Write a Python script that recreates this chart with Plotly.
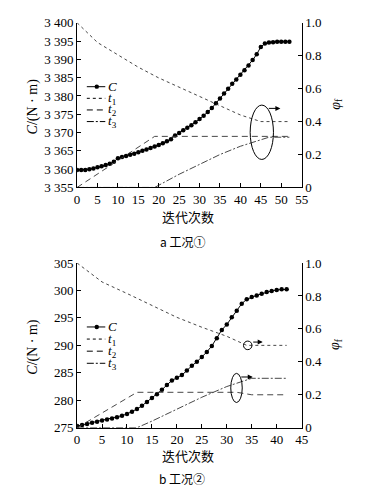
import plotly.graph_objects as go

# ---------------- data ----------------
iter_a = list(range(0, 53))
C_a = [3359.8, 3359.8, 3359.8, 3360.0, 3360.2, 3360.5, 3360.8, 3361.1, 3361.5, 3362.0,
       3363.0, 3363.3, 3363.6, 3363.9, 3364.2, 3364.6, 3365.0, 3365.4, 3365.8, 3366.2,
       3366.6, 3367.1, 3367.6, 3368.2, 3369.2, 3369.9, 3370.6, 3371.3, 3372.0, 3372.8,
       3373.7, 3374.6, 3375.6, 3376.7, 3378.0, 3379.3, 3380.7, 3382.0, 3383.3, 3384.5,
       3385.8, 3387.0, 3388.3, 3389.8, 3391.4, 3393.4, 3394.3, 3394.6, 3394.7, 3394.8,
       3394.8, 3394.8, 3394.8]
t1_a_x = [0, 5, 10, 15, 20, 25, 30, 35, 40, 45, 52]
t1_a = [1.0, 0.88, 0.805, 0.73, 0.665, 0.61, 0.55, 0.50, 0.44, 0.40, 0.40]
t2_a_x = [0, 19, 52]
t2_a = [0.0, 0.31, 0.31]
t3_a_x = [0, 19, 25, 30, 35, 40, 45, 47, 52]
t3_a = [0.0, 0.0, 0.08, 0.14, 0.20, 0.25, 0.29, 0.305, 0.305]

iter_b = list(range(0, 43))
C_b = [275.3, 275.5, 275.7, 275.9, 276.1, 276.3, 276.5, 276.7, 276.9, 277.2,
       277.5, 277.9, 278.4, 279.0, 279.7, 280.4, 281.1, 281.9, 282.8, 283.6,
       284.1, 284.6, 285.4, 286.3, 287.0, 287.9, 288.8, 289.9, 291.3, 292.8,
       293.8, 295.1, 296.3, 297.6, 298.4, 298.8, 299.1, 299.4, 299.7, 299.9,
       300.1, 300.2, 300.2]
t1_b_x = [0, 5, 10, 15, 20, 25, 30, 34, 42]
t1_b = [1.0, 0.885, 0.815, 0.745, 0.67, 0.61, 0.555, 0.50, 0.50]
t2_b_x = [0, 12, 32, 35, 42]
t2_b = [0.0, 0.215, 0.215, 0.20, 0.20]
t3_b_x = [0, 12, 15, 20, 25, 30, 35, 42]
t3_b = [0.0, 0.0, 0.04, 0.115, 0.185, 0.25, 0.30, 0.30]

yticks_a = [3355, 3360, 3365, 3370, 3375, 3380, 3385, 3390, 3395, 3400]
yticktext_a = ["3 355", "3 360", "3 365", "3 370", "3 375", "3 380", "3 385", "3 390", "3 395", "3 400"]
yticks_b = [275, 280, 285, 290, 295, 300, 305]
phi_ticks = [0, 0.2, 0.4, 0.6, 0.8, 1.0]
phi_text = ["0", "0.2", "0.4", "0.6", "0.8", "1.0"]
legend_names = ["<i>C</i>", "<i>t</i><sub>1</sub>", "<i>t</i><sub>2</sub>", "<i>t</i><sub>3</sub>"]

# ---------------- layout helpers ----------------
OFF = 8  # page body margin
W, H = 373 - 2 * OFF, 497 - 2 * OFF
def px(x): return (x - OFF) / W
def py(y): return 1 - (y - OFF) / H

SERIF = "Liberation Serif, Times New Roman, serif"
CJK = "Noto Sans CJK SC"
tickfont = dict(family=SERIF, size=13, color="black")
DASHES = ["solid", "dot", "6px,4px", "7px,2px,2px,2px"]

fig = go.Figure()

def add_panel(xs, C, t1x, t1, t2x, t2, t3x, t3, xa, ya, ya2):
    fig.add_trace(go.Scatter(x=xs, y=C, xaxis=xa, yaxis=ya, mode="lines+markers",
                             line=dict(color="black", width=1),
                             marker=dict(color="black", size=4.5), showlegend=False))
    fig.add_trace(go.Scatter(x=t1x, y=t1, xaxis=xa, yaxis=ya2, mode="lines",
                             line=dict(color="#333", width=0.9, dash=DASHES[1]), showlegend=False))
    fig.add_trace(go.Scatter(x=t2x, y=t2, xaxis=xa, yaxis=ya2, mode="lines",
                             line=dict(color="#333", width=0.9, dash=DASHES[2]), showlegend=False))
    fig.add_trace(go.Scatter(x=t3x, y=t3, xaxis=xa, yaxis=ya2, mode="lines",
                             line=dict(color="#333", width=0.9, dash=DASHES[3]), showlegend=False))

add_panel(iter_a, C_a, t1_a_x, t1_a, t2_a_x, t2_a, t3_a_x, t3_a, "x", "y", "y2")
add_panel(iter_b, C_b, t1_b_x, t1_b, t2_b_x, t2_b, t3_b_x, t3_b, "x2", "y3", "y4")

xdom = [px(76), px(307)]
dom_a = [py(186), py(16)]
dom_b = [py(434), py(264)]

axcommon = dict(showgrid=False, zeroline=False, showline=True, linecolor="black", linewidth=1,
                ticks="inside", ticklen=4, tickcolor="black", tickwidth=1, tickfont=tickfont)

fig.update_layout(
    width=W, height=H, margin=dict(l=0, r=0, t=0, b=0),
    plot_bgcolor="white", paper_bgcolor="white", showlegend=False,
    xaxis=dict(domain=xdom, anchor="y", range=[0, 55], tickvals=list(range(0, 56, 5)), **axcommon),
    yaxis=dict(domain=dom_a, anchor="x", range=[3355, 3400], tickvals=yticks_a, ticktext=yticktext_a, **axcommon),
    yaxis2=dict(overlaying="y", side="right", anchor="x", range=[0, 1], tickvals=phi_ticks, ticktext=phi_text, **axcommon),
    xaxis2=dict(domain=xdom, anchor="y3", range=[0, 45], tickvals=list(range(0, 46, 5)), **axcommon),
    yaxis3=dict(domain=dom_b, anchor="x2", range=[275, 305], tickvals=yticks_b, **axcommon),
    yaxis4=dict(overlaying="y3", side="right", anchor="x2", range=[0, 1], tickvals=phi_ticks, ticktext=phi_text, **axcommon),
)

ann = []
shapes = []

def text(x, y, s, size=14, family=SERIF, angle=0, xanchor="center", pad=1):
    ann.append(dict(x=px(x), y=py(y), xref="paper", yref="paper", text=s, showarrow=False,
                    font=dict(family=family, size=size, color="black"), textangle=angle,
                    xanchor=xanchor, yanchor="middle", borderpad=pad))

# axis titles and captions
text(31, 102, "<i>C</i>/(N · m)", 14, angle=-90)
text(31, 350, "<i>C</i>/(N · m)", 14, angle=-90)
text(342, 100, "<i>φ</i><sub>f</sub>", 14, angle=-90)
text(342, 348, "<i>φ</i><sub>f</sub>", 14, angle=-90)
text(190, 216, "迭代次数", 13, family=CJK)
text(190, 463, "迭代次数", 13, family=CJK)
text(184, 242, "a 工况①", 12, family=CJK)
text(184, 486, "b 工况②", 12, family=CJK)

# manual legends
def legend(y0, dy):
    for i, (n, d) in enumerate(zip(legend_names, DASHES)):
        y = y0 + i * dy
        shapes.append(dict(type="line", xref="paper", yref="paper", x0=px(86), x1=px(105),
                           y0=py(y), y1=py(y), line=dict(color="black", width=1, dash=d)))
        text(107, y, n, 13, xanchor="left", pad=0)
    shapes.append(dict(type="circle", xref="paper", yref="paper", x0=px(94), x1=px(98.5),
                       y0=py(y0 + 2.25), y1=py(y0 - 2.25), fillcolor="black", line=dict(width=0)))

legend(82, 12)
legend(330, 12.5)

# ellipse / circle annotations
shapes.append(dict(type="circle", xref="x", yref="y2", x0=42.4, x1=48.1, y0=0.17, y1=0.50,
                   line=dict(color="black", width=1)))
ann.append(dict(x=49.8, y=0.48, xref="x", yref="y2", ax=46.6, ay=0.48, axref="x", ayref="y2",
                showarrow=True, arrowhead=2, arrowsize=1, arrowwidth=1, arrowcolor="black", text=""))
shapes.append(dict(type="circle", xref="x2", yref="y4", x0=33.35, x1=35.05, y0=0.474, y1=0.526,
                   line=dict(color="black", width=1)))
ann.append(dict(x=37.2, y=0.52, xref="x2", yref="y4", ax=35.0, ay=0.52, axref="x2", ayref="y4",
                showarrow=True, arrowhead=2, arrowsize=1, arrowwidth=1, arrowcolor="black", text=""))
shapes.append(dict(type="circle", xref="x2", yref="y4", x0=30.8, x1=33.1, y0=0.153, y1=0.33,
                   line=dict(color="black", width=1)))
ann.append(dict(x=35.2, y=0.308, xref="x2", yref="y4", ax=32.6, ay=0.308, axref="x2", ayref="y4",
                showarrow=True, arrowhead=2, arrowsize=1, arrowwidth=1, arrowcolor="black", text=""))

fig.update_layout(annotations=ann, shapes=shapes)
fig.write_html("out.html")
